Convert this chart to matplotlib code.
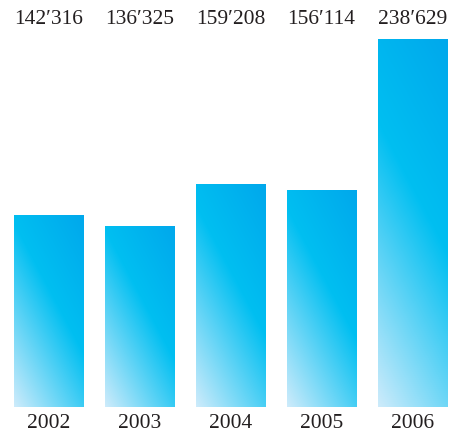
import numpy as np
import matplotlib
matplotlib.use("Agg")
import matplotlib.pyplot as plt
from matplotlib.colors import LinearSegmentedColormap
from matplotlib.transforms import blended_transform_factory

years = ["2002", "2003", "2004", "2005", "2006"]
values = [142316, 136325, 159208, 156114, 238629]
value_labels = ["142\u2032316", "136\u2032325", "159\u2032208", "156\u2032114", "238\u2032629"]

plt.rcParams["font.family"] = ["Liberation Serif", "DejaVu Serif"]

fig = plt.figure(figsize=(4.59, 4.36), dpi=100)
W, H = 459, 436
ax = fig.add_axes([3 / W, 29 / H, 455 / W, 368 / H])
ax.set_xlim(-0.5, 4.5)
ax.set_ylim(37430, 238629)
ax.axis("off")

# light at bottom-left, cyan in the middle, deeper blue at top-right
cmap = LinearSegmentedColormap.from_list(
    "bar_grad", [(0.0, "#cdebfb"), (0.57, "#00bff1"), (1.0, "#00a8ec")])

x = np.arange(len(years))
bars = ax.bar(x, values, width=0.76, bottom=0, color="none", edgecolor="none")
ang = np.deg2rad(28)
for b in bars:
    x0, y0 = b.get_x(), ax.get_ylim()[0]
    x1, y1 = x0 + b.get_width(), b.get_height()
    (px0, py0), (px1, py1) = ax.transData.transform([(x0, y0), (x1, y1)])
    wpx, hpx = px1 - px0, py1 - py0
    nx, ny = max(int(wpx), 2), max(int(hpx), 2)
    gx, gy = np.meshgrid(np.linspace(0, wpx, nx), np.linspace(0, hpx, ny))
    t = gx * np.cos(ang) + gy * np.sin(ang)
    t = t / t.max()
    im = ax.imshow(t, cmap=cmap, vmin=0, vmax=1, extent=[x0, x1, y0, y1],
                   origin="lower", aspect="auto", interpolation="bilinear")
    im.set_clip_path(b)

ax.set_xlim(-0.5, 4.5)
ax.set_ylim(37430, 238629)

top = blended_transform_factory(ax.transData, fig.transFigure)
for i in range(len(years)):
    ax.text(x[i], 1 - 19.5 / H, value_labels[i], transform=top, ha="center",
            va="center", fontsize=15.5, color="#231f20")
    ax.text(x[i], 13 / H, years[i], transform=top, ha="center",
            va="center", fontsize=15.5, color="#231f20")

fig.savefig("out.png", dpi=100)
